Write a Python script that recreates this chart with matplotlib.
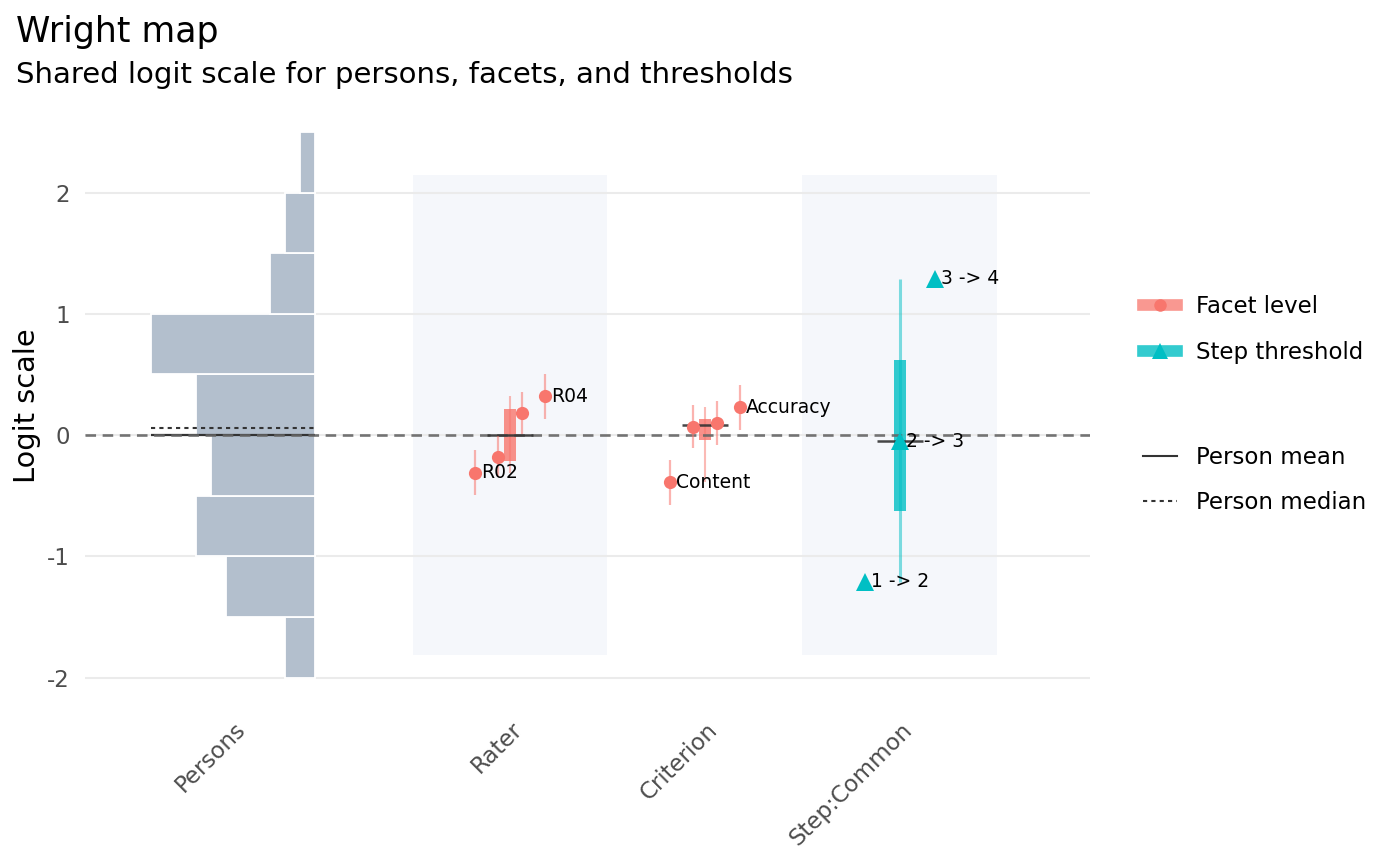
import matplotlib
matplotlib.use("Agg")
import matplotlib.pyplot as plt
import numpy as np
from matplotlib.lines import Line2D
from matplotlib.transforms import ScaledTranslation

plt.rcParams['axes.unicode_minus'] = False

# persons: counts in 0.5 logit bins
person_bin_edges = [-2.0, -1.5, -1.0, -0.5, 0.0, 0.5, 1.0, 1.5, 2.0, 2.5]
person_counts = [2, 6, 8, 7, 8, 11, 3, 2, 1]
person_mean = 0.0
person_median = 0.06

rater_measure = [-0.31, -0.18, 0.18, 0.32]
rater_se = [0.185, 0.17, 0.175, 0.185]
rater_label = ["R02", "", "", "R04"]

criterion_measure = [-0.39, 0.07, 0.10, 0.23]
criterion_se = [0.185, 0.18, 0.18, 0.185]
criterion_label = ["Content", "", "", "Accuracy"]

step_threshold = [-1.21, -0.05, 1.29]
step_label = ["1 -> 2", "2 -> 3", "3 -> 4"]

columns = ["Persons", "Rater", "Criterion", "Step:Common"]

SALMON = "#F8766D"
TEAL = "#00BFC4"
HIST = "#B3BFCD"
BAND = "#F5F7FB"
DARK = "#333333"

HIST_W = 0.84      # widest person bar, in x units
DODGE = 0.18       # half spread of points inside a column
BAND_LO, BAND_HI = -1.815, 2.145


def draw_column(ax, xc, vals, labels, color, marker, ms, se=None):
    vals = np.asarray(vals, dtype=float)
    n = len(vals)
    xs = xc + np.linspace(-DODGE, DODGE, n)
    q1, med, q3 = np.percentile(vals, [25, 50, 75])
    ax.vlines(xc, vals.min(), vals.max(), color=color, alpha=0.5,
              lw=2.2 if se is None else 1.5, zorder=2)
    ax.bar(xc, q3 - q1, bottom=q1, width=0.062, color=color, alpha=0.8,
           lw=0, zorder=2.1)
    ax.hlines(med, xc - 0.12, xc + 0.12, color=DARK, lw=1.8, alpha=0.9,
              zorder=2.4)
    if se is not None:
        se = np.asarray(se)
        ax.vlines(xs, vals - se, vals + se, color=color, alpha=0.55, lw=1.6,
                  zorder=3)
    ax.plot(xs, vals, ls="none", marker=marker, ms=ms, color=color, mew=0,
            zorder=4)
    for x, v, lab in zip(xs, vals, labels):
        if lab:
            ax.annotate(lab, (x, v), xytext=(4.2, 0), textcoords="offset points",
                        ha="left", va="center", fontsize=13.5, color="black",
                        zorder=5)


fig = plt.figure(figsize=(14, 8.66), dpi=100)
ax = fig.add_axes([85 / 1400, 160 / 866, 1005 / 1400, 601 / 866])

# shaded facet bands
for xc in (2, 4):
    ax.bar(xc, BAND_HI - BAND_LO, bottom=BAND_LO, width=1.0, color=BAND,
           lw=0, zorder=0.1)

# person histogram, growing to the left of x = 1
edges = np.array(person_bin_edges)
counts = np.array(person_counts, dtype=float)
widths = counts / counts.max() * HIST_W
ax.barh(edges[:-1], widths, left=1 - widths, height=np.diff(edges),
        align="edge", color=HIST, edgecolor="white", lw=1.3, zorder=1)
ax.hlines(person_mean, 1 - HIST_W, 1, color=DARK, lw=1.6, zorder=2.2)
ax.hlines(person_median, 1 - HIST_W, 1, color=DARK, lw=1.5,
          linestyles=(0, (2, 2)), zorder=2.2)

draw_column(ax, 2, rater_measure, rater_label, SALMON, "o", 9.5, rater_se)
draw_column(ax, 3, criterion_measure, criterion_label, SALMON, "o", 9.5,
            criterion_se)
draw_column(ax, 4, step_threshold, step_label, TEAL, "^", 12.5)

ax.axhline(0, color="#666666", lw=1.9, dashes=(4, 2.5), alpha=0.9, zorder=2.3)

ax.set_xlim(-0.18, 4.975)
ax.set_ylim(-2.235, 2.722)
ax.set_yticks([-2, -1, 0, 1, 2])
ax.yaxis.grid(True, color="#EBEBEB", lw=1.5)
ax.set_axisbelow(True)
for s in ax.spines.values():
    s.set_visible(False)

ax.tick_params(axis="y", length=0, pad=10.8, labelsize=16.5,
               labelcolor="#4D4D4D")
ax.set_xticks([1 - HIST_W / 2, 2, 3, 4], columns)
ax.tick_params(axis="x", length=0, pad=8.5, labelsize=16.5,
               labelcolor="#4D4D4D")
shift = ScaledTranslation(1 / 100, 0, fig.dpi_scale_trans)
for lab in ax.get_xticklabels():
    lab.set_rotation(45)
    lab.set_ha("right")
    lab.set_va("top")
    lab.set_rotation_mode("anchor")
    lab.set_transform(lab.get_transform() + shift)

fig.text(27 / 1400, 0.5 * (866 - 105 + 160) / 866, "Logit scale",
         rotation=90, ha="center", va="center", fontsize=20.7)

fig.text(16 / 1400, (866 - 42) / 866, "Wright map", fontsize=25.0,
         va="baseline")
fig.text(16 / 1400, (866 - 83) / 866,
         "Shared logit scale for persons, facets, and thresholds",
         fontsize=21.0, va="baseline")

# legends
h_facet = (Line2D([], [], color=SALMON, lw=8.4, alpha=0.75),
           Line2D([], [], color=SALMON, marker="o", ms=9, mew=0, lw=0))
h_step = (Line2D([], [], color=TEAL, lw=8.4, alpha=0.8),
          Line2D([], [], color=TEAL, marker="^", ms=12, mew=0, lw=0))
fig.legend([h_facet, h_step], ["Facet level", "Step threshold"],
           loc="center left", bbox_to_anchor=(1143 / 1400, 0.620),
           frameon=False, fontsize=16.5, handlelength=1.5,
           handletextpad=0.8, borderpad=0, borderaxespad=0,
           labelspacing=1.0)
h_mean = Line2D([], [], color=DARK, lw=1.5)
h_med = Line2D([], [], color=DARK, lw=1.5, ls=(0, (2, 2)))
fig.legend([h_mean, h_med], ["Person mean", "Person median"],
           loc="center left", bbox_to_anchor=(1143 / 1400, 0.4457),
           frameon=False, fontsize=16.5, handlelength=1.5,
           handletextpad=0.8, borderpad=0, borderaxespad=0,
           labelspacing=1.0)

fig.savefig("out.png", dpi=100)
